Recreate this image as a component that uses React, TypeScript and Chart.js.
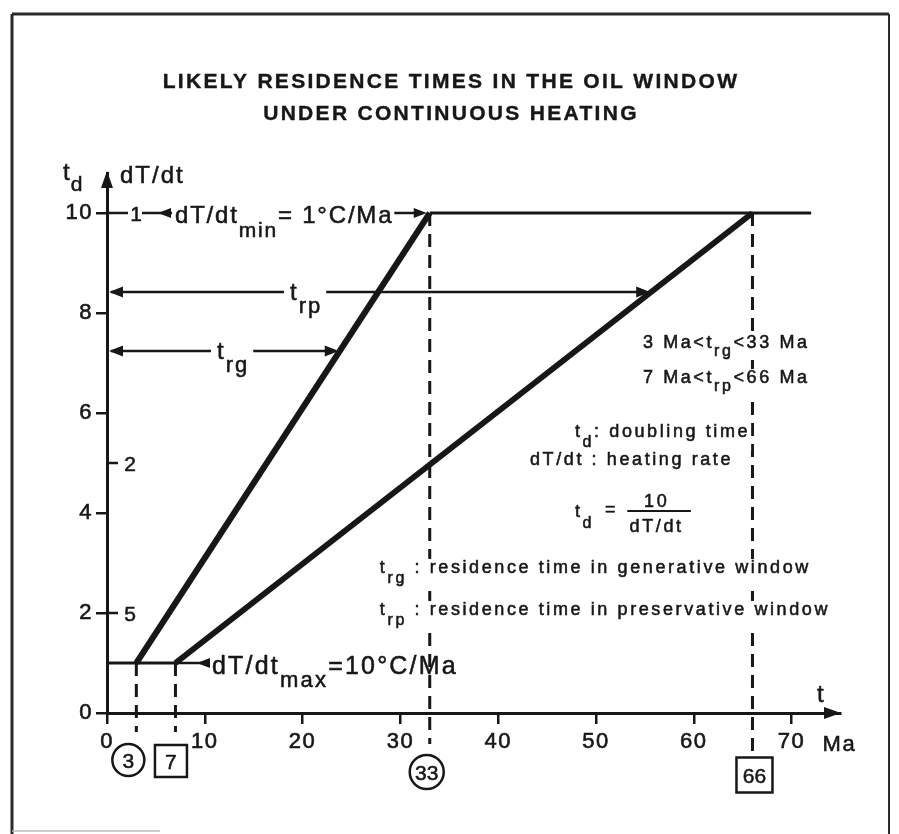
import React, { useEffect, useRef } from 'react';
import { Chart, registerables } from 'chart.js';

Chart.register(...registerables);

// ---------- data ----------
const TITLE_LINES = ['LIKELY RESIDENCE TIMES IN THE OIL WINDOW', 'UNDER CONTINUOUS HEATING'];
const X_TICKS = [0, 10, 20, 30, 40, 50, 60, 70];
const Y_TICKS = [0, 2, 4, 6, 8, 10];
const RATE_AT_TD = [10, 5, 2]; // t_d positions of heating-rate labels
const RATE_LABELS = ['1', '2', '5']; // dT/dt = 10 / t_d
const GEN_WINDOW = [
  { x: 3, y: 1 },
  { x: 33, y: 10 },
];
const PRES_WINDOW = [
  { x: 7, y: 1 },
  { x: 66, y: 10 },
];
const MIN_RATE_LINE = [
  { x: 33, y: 10 },
  { x: 72, y: 10 },
];
const MAX_RATE_LINE = [
  { x: 0, y: 1 },
  { x: 7, y: 1 },
];
const MARK_T = [3, 7, 33, 66];
const MARK_FROM = [1, 1, 10, 10];
const MARK_TO = [-0.38, -0.38, -0.62, -0.84];
const MARK_LABELS = ['3', '7', '33', '66'];
const MARK_KIND = ['circle', 'box', 'circle', 'box'];
const T_RG_LEVEL = 7.24;
const T_RP_LEVEL = 8.42;

// ---------- drawing helpers ----------
const FONT = '"Liberation Sans", Arial, Helvetica, sans-serif';
const INK = '#171717';

type Part = { t: string; sub?: boolean };
type RichOpts = {
  size: number;
  sub?: number;
  dy?: number;
  sp?: number;
  align?: 'left' | 'center' | 'right';
  bold?: boolean;
  halo?: boolean;
  stroke?: number;
};

function setFont(ctx: CanvasRenderingContext2D, size: number, bold = false) {
  ctx.font = `${bold ? 'bold ' : ''}${size}px ${FONT}`;
}

function drawRich(ctx: CanvasRenderingContext2D, parts: Part[], x: number, y: number, o: RichOpts) {
  ctx.save();
  (ctx as any).letterSpacing = `${o.sp ?? 0}px`;
  ctx.textBaseline = 'alphabetic';
  ctx.textAlign = 'left';
  const subSize = o.sub ?? o.size * 0.8;
  const widths = parts.map((p) => {
    setFont(ctx, p.sub ? subSize : o.size, o.bold);
    return ctx.measureText(p.t).width;
  });
  const total = widths.reduce((a, b) => a + b, 0);
  const start = o.align === 'center' ? x - total / 2 : o.align === 'right' ? x - total : x;
  if (o.halo) {
    ctx.fillStyle = '#ffffff';
    const hasSub = parts.some((p) => p.sub);
    const bottom = y + (hasSub ? (o.dy ?? 8) + subSize * 0.25 : o.size * 0.25);
    ctx.fillRect(start - 3, y - o.size * 0.78, total + 4, bottom - (y - o.size * 0.78));
  }
  ctx.fillStyle = INK;
  ctx.strokeStyle = INK;
  ctx.lineWidth = o.stroke ?? 0.55;
  ctx.lineJoin = 'round';
  let cx = start;
  parts.forEach((p, i) => {
    setFont(ctx, p.sub ? subSize : o.size, o.bold);
    const yy = p.sub ? y + (o.dy ?? 8) : y;
    ctx.fillText(p.t, cx, yy);
    if ((o.stroke ?? 0.55) > 0) ctx.strokeText(p.t, cx, yy);
    cx += widths[i];
  });
  ctx.restore();
  return { left: start, right: cx, width: total };
}

function head(ctx: CanvasRenderingContext2D, x: number, y: number, dir: 'left' | 'right' | 'up', len = 13, half = 5) {
  ctx.beginPath();
  if (dir === 'left') {
    ctx.moveTo(x, y);
    ctx.lineTo(x + len, y - half);
    ctx.lineTo(x + len, y + half);
  } else if (dir === 'right') {
    ctx.moveTo(x, y);
    ctx.lineTo(x - len, y - half);
    ctx.lineTo(x - len, y + half);
  } else {
    ctx.moveTo(x, y);
    ctx.lineTo(x - half, y + len);
    ctx.lineTo(x + half, y + len);
  }
  ctx.closePath();
  ctx.fill();
}

function seg(ctx: CanvasRenderingContext2D, x1: number, y1: number, x2: number, y2: number, w = 2.5) {
  ctx.beginPath();
  ctx.lineWidth = w;
  ctx.moveTo(x1, y1);
  ctx.lineTo(x2, y2);
  ctx.stroke();
}

function xAt(line: { x: number; y: number }[], y: number) {
  const [a, b] = line;
  return a.x + ((y - a.y) * (b.x - a.x)) / (b.y - a.y);
}

const annotations = {
  id: 'annotations',
  beforeDraw(chart: any) {
    const ctx = chart.ctx as CanvasRenderingContext2D;
    ctx.save();
    ctx.fillStyle = '#ffffff';
    ctx.fillRect(0, 0, chart.width, chart.height);
    ctx.restore();
    (ctx as any).letterSpacing = '1.5px';
  },
  afterDraw(chart: any) {
    const ctx = chart.ctx as CanvasRenderingContext2D;
    const xs = chart.scales.x;
    const ys = chart.scales.y;
    const X = (v: number) => xs.getPixelForValue(v);
    const Y = (v: number) => ys.getPixelForValue(v);
    const ax = X(0);
    const ay = Y(0);
    const area = chart.chartArea;
    ctx.save();
    (ctx as any).letterSpacing = '0px';
    ctx.fillStyle = INK;
    ctx.strokeStyle = INK;
    ctx.lineCap = 'butt';

    // frame
    ctx.strokeStyle = '#2a2a2a';
    seg(ctx, 12, 14, 889, 14, 3);
    seg(ctx, 12, 14, 12, chart.height, 3);
    seg(ctx, 889, 14, 889, chart.height, 2);
    ctx.strokeStyle = '#bbbbbb';
    seg(ctx, 12, 831, 160, 831, 1.5);
    ctx.strokeStyle = INK;

    // title
    TITLE_LINES.forEach((s, i) => {
      drawRich(ctx, [{ t: s }], 451, 88 + i * 32, { size: 21, sp: 2.3, align: 'center', bold: true, stroke: 0.4 });
    });

    // axis arrows
    head(ctx, area.right + 1, ay, 'right', 17, 6);
    head(ctx, ax, area.top - 2, 'up', 17, 6);

    // axis labels
    drawRich(ctx, [{ t: 't' }, { t: 'd', sub: true }], ax - 44, Y(10.8) + 7, { size: 24, sub: 21, dy: 11, sp: 1 });
    drawRich(ctx, [{ t: 'dT/dt' }], ax + 13, Y(10.8) + 10, { size: 24, sp: 2 });
    drawRich(ctx, [{ t: 't' }], X(0) + 710, ay - 11, { size: 24 });
    drawRich(ctx, [{ t: 'Ma' }], X(70) + 31, ay + 38, { size: 22, sp: 1.5 });

    // heating-rate scale on the t_d axis
    RATE_AT_TD.forEach((td, i) => {
      const yy = Y(td);
      if (td === 10) {
        seg(ctx, ax, yy, ax + 21, yy, 2.5);
        drawRich(ctx, [{ t: RATE_LABELS[i] }], ax + 29, yy + 7.5, { size: 21, align: 'center' });
      } else {
        seg(ctx, ax, yy, ax + 11, yy, 2.5);
        drawRich(ctx, [{ t: RATE_LABELS[i] }], ax + 23, yy + 7.5, { size: 21, align: 'center' });
      }
    });

    // dT/dt min label
    {
      const yy = Y(10);
      seg(ctx, ax + 35, yy, ax + 65, yy, 2.5);
      head(ctx, ax + 51, yy, 'left', 13, 5);
      const r = drawRich(
        ctx,
        [{ t: 'dT/dt' }, { t: 'min', sub: true }, { t: '= 1°C/Ma' }],
        ax + 68,
        yy + 10,
        { size: 24, sub: 21, dy: 14, sp: 1.8 }
      );
      seg(ctx, r.right + 1, yy, X(GEN_WINDOW[1].x) - 12, yy, 2.5);
      head(ctx, X(GEN_WINDOW[1].x) - 3, yy, 'right', 13, 5);
    }

    // dT/dt max label
    {
      const yy = Y(1);
      seg(ctx, X(MAX_RATE_LINE[1].x), yy, ax + 101, yy, 2.5);
      head(ctx, ax + 90, yy, 'left', 13, 5);
      drawRich(
        ctx,
        [{ t: 'dT/dt' }, { t: 'max', sub: true }, { t: '=10°C/Ma' }],
        ax + 105,
        yy + 11,
        { size: 25, sub: 22, dy: 13, sp: 2.2 }
      );
    }

    // residence-time arrows
    const arrow = (level: number, line: { x: number; y: number }[], lx: number, sub: string) => {
      const yy = Y(level);
      const xe = X(xAt(line, level));
      ctx.save();
      (ctx as any).letterSpacing = '2px';
      setFont(ctx, 24);
      const wt = ctx.measureText('t').width;
      setFont(ctx, 22);
      const ws = ctx.measureText(sub).width;
      ctx.restore();
      const w = wt + ws;
      seg(ctx, ax + 4, yy, lx - 6, yy, 2.5);
      seg(ctx, lx + w + 4, yy, xe - 6, yy, 2.5);
      head(ctx, ax + 2, yy, 'left', 14, 5.5);
      head(ctx, xe - 1, yy, 'right', 14, 5.5);
      drawRich(ctx, [{ t: 't' }, { t: sub, sub: true }], lx, yy + 8, { size: 24, sub: 22, dy: 13, sp: 2 });
    };
    arrow(T_RP_LEVEL, PRES_WINDOW, ax + 183, 'rp');
    arrow(T_RG_LEVEL, GEN_WINDOW, ax + 110, 'rg');

    // explanatory text block
    const body = { size: 18, sub: 16, dy: 8, sp: 2.6, halo: true };
    drawRich(ctx, [{ t: '3 Ma<t' }, { t: 'rg', sub: true }, { t: '<33 Ma' }], X(54.8), Y(7.3), body);
    drawRich(ctx, [{ t: '7 Ma<t' }, { t: 'rp', sub: true }, { t: '<66 Ma' }], X(54.8), Y(6.6), body);
    drawRich(ctx, [{ t: 't' }, { t: 'd', sub: true }, { t: ': doubling time' }], X(47.85), Y(5.52), { ...body, dy: 10 });
    drawRich(ctx, [{ t: 'dT/dt : heating rate' }], X(43.25), Y(4.96), body);
    drawRich(ctx, [{ t: 't' }, { t: 'd', sub: true }], X(47.85), Y(3.92), { ...body, dy: 11 });
    drawRich(ctx, [{ t: '=' }], X(51.6), Y(3.92) - 2, { ...body, align: 'center' });
    drawRich(ctx, [{ t: '10' }], X(56.2), Y(4.12), { ...body, align: 'center' });
    seg(ctx, X(53.2), Y(4.04), X(59.7), Y(4.04), 2);
    drawRich(ctx, [{ t: 'dT/dt' }], X(56.2), Y(3.62), { ...body, align: 'center' });
    drawRich(ctx, [{ t: 't' }, { t: 'rg', sub: true }, { t: ' : residence time in generative window' }], X(27.9), Y(2.8), { ...body, dy: 10 });
    drawRich(ctx, [{ t: 't' }, { t: 'rp', sub: true }, { t: ' : residence time in preservative window' }], X(27.9), Y(1.96), { ...body, dy: 10 });

    // marked times below the axis
    const offs = [-8, -4.5, -3, 2];
    const dys = [47, 48, 59, 62];
    MARK_T.forEach((t, i) => {
      const cx = X(t) + offs[i];
      const cy = ay + dys[i];
      ctx.lineWidth = 2.5;
      ctx.strokeStyle = INK;
      ctx.beginPath();
      if (MARK_KIND[i] === 'circle') {
        const r = MARK_LABELS[i].length > 1 ? 17 : 16;
        ctx.arc(cx, cy, r, 0, Math.PI * 2);
      } else {
        const w = MARK_LABELS[i].length > 1 ? 36 : 32;
        const h = MARK_LABELS[i].length > 1 ? 35 : 32;
        ctx.rect(cx - w / 2, cy - h / 2, w, h);
      }
      ctx.stroke();
      drawRich(ctx, [{ t: MARK_LABELS[i] }], cx, cy + 7.5, { size: 21, align: 'center', sp: 0 });
    });

    ctx.restore();
  },
};

export default function App() {
  const ref = useRef<HTMLCanvasElement | null>(null);

  useEffect(() => {
    document.body.style.margin = '0';
    const canvas = ref.current;
    if (!canvas) return;

    const lineDs = (data: { x: number; y: number }[], width: number) => ({
      data,
      showLine: true,
      borderColor: INK,
      borderWidth: width,
      pointRadius: 0,
      fill: false,
      tension: 0,
    });

    const dashed = MARK_T.map((t, i) => ({
      data: [
        { x: t, y: MARK_FROM[i] },
        { x: t, y: MARK_TO[i] },
      ],
      showLine: true,
      borderColor: INK,
      borderWidth: 3,
      borderDash: [13, 8],
      pointRadius: 0,
      clip: false as const,
    }));

    const tickFont = { family: FONT, size: 22 };

    const chart = new Chart(canvas, {
      type: 'scatter',
      data: {
        datasets: [
          ...dashed,
          lineDs(MAX_RATE_LINE, 3),
          lineDs(MIN_RATE_LINE, 3),
          lineDs(GEN_WINDOW, 6),
          lineDs(PRES_WINDOW, 6),
        ] as any,
      },
      options: {
        responsive: false,
        maintainAspectRatio: false,
        devicePixelRatio: 1,
        animation: false,
        events: [],
        layout: { padding: { left: 0, top: 173, right: 59, bottom: 0 } },
        plugins: {
          legend: { display: false },
          tooltip: { enabled: false },
          title: { display: false },
        },
        scales: {
          x: {
            type: 'linear',
            min: 0,
            max: 74.95,
            afterBuildTicks: (s: any) => {
              s.ticks = X_TICKS.map((v) => ({ value: v }));
            },
            afterFit: (s: any) => {
              s.height = 121;
            },
            grid: { drawOnChartArea: false, drawTicks: true, tickLength: 11, lineWidth: 2.5, color: INK },
            border: { display: true, width: 3, color: INK },
            ticks: {
              color: INK,
              font: tickFont,
              padding: 5,
              maxRotation: 0,
              autoSkip: false,
              textStrokeColor: INK,
              textStrokeWidth: 0.6,
              callback: (v: any) => String(v),
            },
          },
          y: {
            type: 'linear',
            min: 0,
            max: 10.8,
            afterBuildTicks: (s: any) => {
              s.ticks = Y_TICKS.map((v) => ({ value: v }));
            },
            afterFit: (s: any) => {
              s.width = 107;
            },
            grid: { drawOnChartArea: false, drawTicks: true, tickLength: 11, lineWidth: 2.5, color: INK },
            border: { display: true, width: 3, color: INK },
            ticks: {
              color: INK,
              font: tickFont,
              padding: 3,
              autoSkip: false,
              textStrokeColor: INK,
              textStrokeWidth: 0.6,
              callback: (v: any) => String(v),
            },
          },
        },
      } as any,
      plugins: [annotations],
    });

    return () => chart.destroy();
  }, []);

  return (
    <div style={{ width: 899, height: 834 }}>
      <canvas ref={ref} width={899} height={834} style={{ display: 'block' }} />
    </div>
  );
}
